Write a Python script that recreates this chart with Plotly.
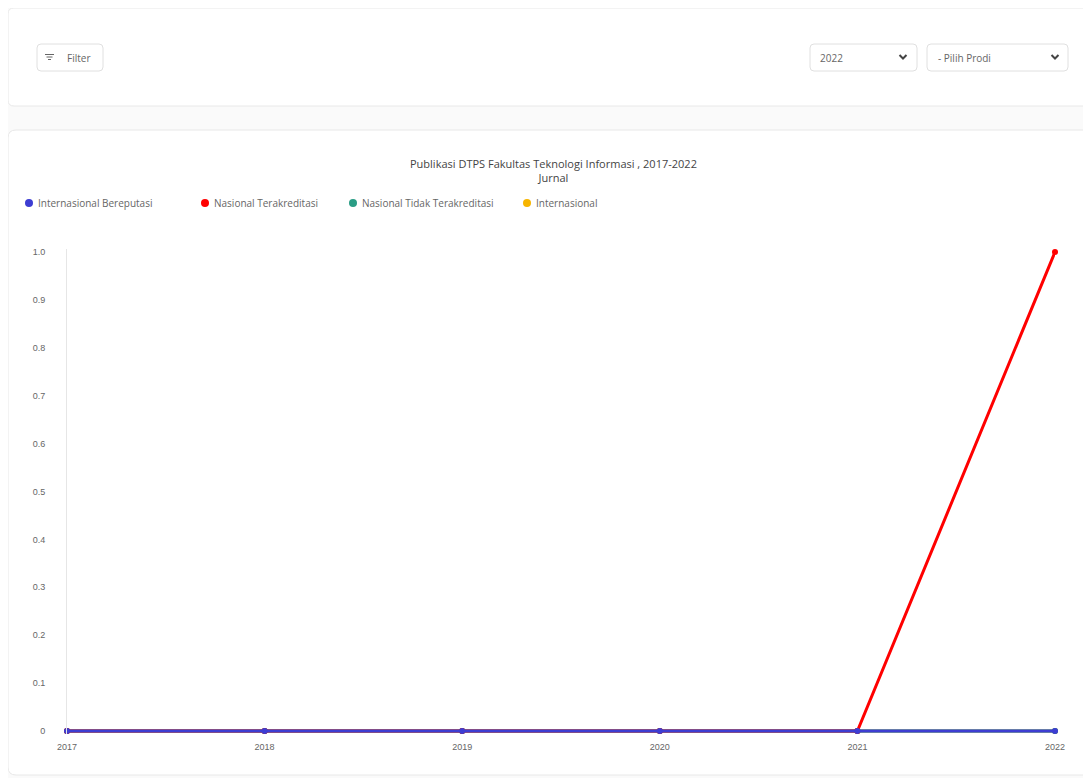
import plotly.graph_objects as go

# data
years = [2017, 2018, 2019, 2020, 2021, 2022]
internasional_bereputasi = [0, 0, 0, 0, 0, 0]
nasional_terakreditasi = [0, 0, 0, 0, 0, 1]
nasional_tidak_terakreditasi = [0, 0, 0, 0, 0, 0]
internasional = [0, 0, 0, 0, 0, 0]
y_ticks = [0, 0.1, 0.2, 0.3, 0.4, 0.5, 0.6, 0.7, 0.8, 0.9, 1.0]
y_tick_text = ['0', '0.1', '0.2', '0.3', '0.4', '0.5', '0.6', '0.7', '0.8', '0.9', '1.0']

series = [
    ('Internasional Bereputasi', internasional_bereputasi, '#3d3dd2'),
    ('Nasional Terakreditasi', nasional_terakreditasi, '#ff0000'),
    ('Nasional Tidak Terakreditasi', nasional_tidak_terakreditasi, '#2a9d85'),
    ('Internasional', internasional, '#f7b500'),
]

W, H = 1091, 778
OFF = 8                  # the page body margin shifts the figure
L, R = 67, 1055          # plot area x in page px
T, B = 249, 734          # plot area y in page px
pad = 3 / 479


def px(x):
    return (x - L) / (R - L)


def py(y):
    return (B - y) / (B - T)


def rrect(x0, y0, x1, y1, r):
    p = (f"M {px(x0 + r)},{py(y0)} L {px(x1 - r)},{py(y0)} "
         f"Q {px(x1)},{py(y0)} {px(x1)},{py(y0 + r)} L {px(x1)},{py(y1 - r)} "
         f"Q {px(x1)},{py(y1)} {px(x1 - r)},{py(y1)} L {px(x0 + r)},{py(y1)} "
         f"Q {px(x0)},{py(y1)} {px(x0)},{py(y1 - r)} L {px(x0)},{py(y0 + r)} "
         f"Q {px(x0)},{py(y0)} {px(x0 + r)},{py(y0)} Z")
    return p


fig = go.Figure()

# draw last series first so the first dataset ends up on top
for name, vals, col in reversed(series):
    fig.add_trace(go.Scatter(
        x=years, y=vals, name=name, mode='lines+markers',
        line=dict(color=col, width=3), marker=dict(color=col, size=6),
        cliponaxis=False, showlegend=False
    ))

shapes = []
# cards
shapes.append(dict(type='path', path=rrect(8, 8, 1110, 106, 6), xref='paper', yref='paper',
                   fillcolor='white', line=dict(color='#e8e8e8', width=1), layer='below'))
shapes.append(dict(type='path', path=rrect(8, 130, 1110, 775, 8), xref='paper', yref='paper',
                   fillcolor='white', line=dict(color='#e8e8e8', width=1), layer='below'))
# filter button and selects
for x0, x1 in [(37, 103), (810, 917), (927, 1068)]:
    shapes.append(dict(type='path', path=rrect(x0, 44, x1, 71, 4), xref='paper', yref='paper',
                       fillcolor='white', line=dict(color='#e0e0e0', width=1), layer='below'))
# filter icon
for yy, a, b in [(54.5, 45, 54), (57, 46.5, 52.5), (59.5, 48, 51)]:
    shapes.append(dict(type='line', x0=px(a), x1=px(b), y0=py(yy), y1=py(yy),
                       xref='paper', yref='paper', line=dict(color='#666', width=1)))
# chevrons
for cx in [903, 1055]:
    shapes.append(dict(type='path', xref='paper', yref='paper',
                       path=f"M {px(cx - 3.5)},{py(55)} L {px(cx)},{py(58.5)} L {px(cx + 3.5)},{py(55)}",
                       line=dict(color='#444', width=2)))

annotations = [
    dict(text='Filter', x=px(65), y=py(57.5), xanchor='left', yanchor='middle'),
    dict(text='2022', x=px(818), y=py(57.5), xanchor='left', yanchor='middle'),
    dict(text='- Pilih Prodi', x=px(936), y=py(57.5), xanchor='left', yanchor='middle'),
]
for a in annotations:
    a.update(xref='paper', yref='paper', showarrow=False,
             font=dict(family='Open Sans', size=10, color='#666'))
annotations.append(dict(
    text='Publikasi DTPS Fakultas Teknologi Informasi , 2017-2022<br>Jurnal',
    x=px(553), y=py(171), xref='paper', yref='paper', xanchor='center', yanchor='middle',
    showarrow=False, font=dict(family='Open Sans', size=11, color='#444')))

# legend (circle markers with labels, as in the source chart)
legend_x = [29, 205, 353, 527]
for (name, vals, col), lx in zip(series, legend_x):
    shapes.append(dict(type='circle', xref='paper', yref='paper',
                       x0=px(lx - 4), x1=px(lx + 4), y0=py(207), y1=py(199),
                       fillcolor=col, line=dict(width=0)))
    annotations.append(dict(text=name, x=px(lx + 7), y=py(203), xref='paper', yref='paper',
                            xanchor='left', yanchor='middle', showarrow=False,
                            font=dict(family='Open Sans', size=10, color='#666')))

fig.update_layout(
    width=W, height=H,
    margin=dict(l=L - OFF, r=W - R + OFF, t=T - OFF, b=H - B + OFF),
    paper_bgcolor='#fafafa', plot_bgcolor='white',
    shapes=shapes, annotations=annotations,
    showlegend=False,
    hovermode='x',
)
fig.update_xaxes(range=[2017, 2022], tickvals=years, showgrid=False, zeroline=False,
                 showline=False, ticks='', ticklabelstandoff=6,
                 tickfont=dict(family='Liberation Sans', size=9, color='#666'))
fig.update_yaxes(range=[-pad, 1 + pad], tickvals=y_ticks, ticktext=y_tick_text,
                 showgrid=False, zeroline=False, showline=True, linecolor='#e6e6e6',
                 linewidth=1, ticks='', ticklabelstandoff=19,
                 tickfont=dict(family='Liberation Sans', size=9, color='#666'))

fig.write_html("out.html")
